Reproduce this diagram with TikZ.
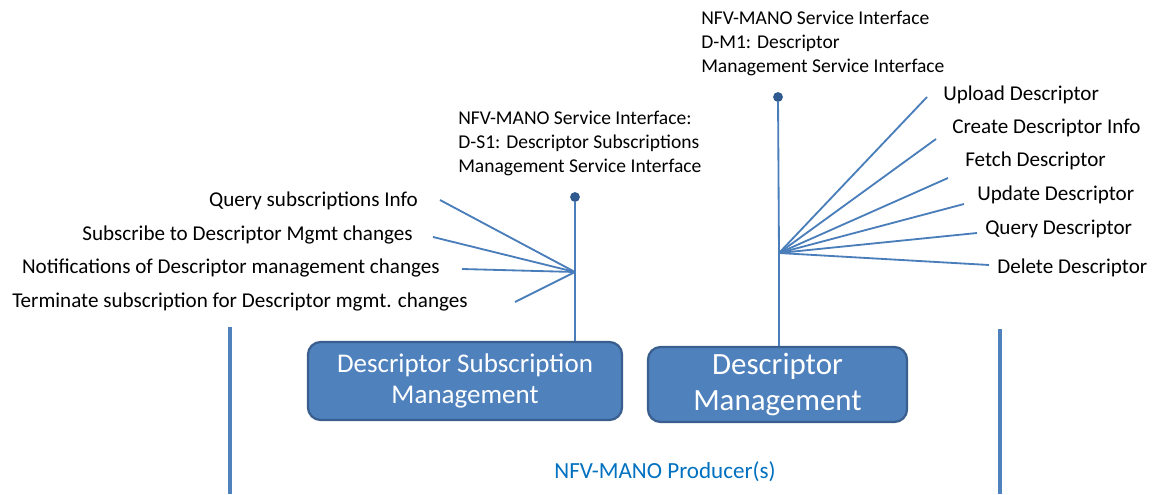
\documentclass[tikz,border=0pt]{standalone}
\usepackage{fontspec}
\setmainfont{Carlito}
\usetikzlibrary{positioning}
\definecolor{boxfill}{HTML}{4F81BD}
\definecolor{boxedge}{HTML}{3A5F8E}
\definecolor{wire}{HTML}{4A7EBB}
\definecolor{dotblue}{HTML}{2F5A8F}
\definecolor{prodtext}{HTML}{0070C0}
\tikzset{%
  block/.style={rectangle,rounded corners=9pt,draw=boxedge,fill=boxfill,line width=1.6pt,text=white,align=center,inner sep=0pt},
  oper/.style={font=\fontsize{15}{18}\selectfont,inner sep=0pt},
  iface/.style={font=\fontsize{13.9}{17}\selectfont,align=left,inner sep=0pt},
  wire/.style={draw=wire,line width=1.3pt},
  frame/.style={draw=boxfill,line width=3.5pt},
  port/.style={circle,fill=dotblue,inner sep=0pt,minimum size=7pt}%
}

\begin{document}
\begin{tikzpicture}[x=0.025cm,y=-0.025cm]
      \useasboundingbox (0,0) rectangle (1152,494);

      % producer frame
      \coordinate (frame_lt) at (230,327);
      \coordinate (frame_lb) at (230,494);
      \coordinate (frame_rt) at (1000,329);
      \coordinate (frame_rb) at (1000,494);
      \path (frame_lt) edge[frame] (frame_lb) (frame_rt) edge[frame] (frame_rb);
      \node (producer) at (665,472) [text=prodtext,font=\fontsize{16.4}{19}\selectfont] {NFV-MANO Producer(s)};

      % functional blocks
      \node (sub_mgmt) at (465,381) [block,minimum width=7.85cm,minimum height=1.95cm,font=\fontsize{19.2}{22}\selectfont] {Descriptor Subscription\\Management};
      \node (desc_mgmt) at (777.5,384.5) [block,minimum width=6.475cm,minimum height=1.875cm,font=\fontsize{22}{25}\selectfont] {Descriptor\\Management};

      % D-S1 interface
      \node (port_s1) at (575,197) [port] {};
      \coordinate (hub_s1) at (575,272);
      \node (iface_s1) at (458,111) [iface,anchor=north west] {NFV-MANO Service Interface:\\D-S1: Descriptor Subscriptions\\Management Service Interface};
      \path (port_s1) edge[wire] (hub_s1) (hub_s1) edge[wire] (hub_s1 |- sub_mgmt.north);

      \node (query_sub) at (418,201) [oper,anchor=east] {Query subscriptions Info};
      \node (subscribe) at (413,235) [oper,anchor=east] {Subscribe to Descriptor Mgmt changes};
      \node (notify) at (440,268) [oper,anchor=east] {Notifications of Descriptor management changes};
      \node (terminate) at (468,302) [oper,anchor=east] {Terminate subscription for Descriptor mgmt. changes};
      \coordinate (query_sub_end) at (440,200);
      \coordinate (subscribe_end) at (433,237);
      \coordinate (notify_end) at (462,269);
      \coordinate (terminate_end) at (515,302);
      \path (hub_s1) edge[wire] (query_sub_end)
            (hub_s1) edge[wire] (subscribe_end)
            (hub_s1) edge[wire] (notify_end)
            (hub_s1) edge[wire] (terminate_end);

      % D-M1 interface
      \node (port_m1) at (778,97) [port] {};
      \coordinate (hub_m1) at (779,253);
      \node (iface_m1) at (701,11) [iface,anchor=north west] {NFV-MANO Service Interface\\D-M1: Descriptor\\Management Service Interface};
      \path (port_m1) edge[wire] (hub_m1) (hub_m1) edge[wire] (hub_m1 |- desc_mgmt.north);

      \node (upload) at (943,95) [oper,anchor=west] {Upload Descriptor};
      \node (create) at (952,128) [oper,anchor=west] {Create Descriptor Info};
      \node (fetch) at (965,161) [oper,anchor=west] {Fetch Descriptor};
      \node (update) at (977,195) [oper,anchor=west] {Update Descriptor};
      \node (query_desc) at (985,229) [oper,anchor=west] {Query Descriptor};
      \node (delete) at (997,268) [oper,anchor=west] {Delete Descriptor};
      \coordinate (upload_end) at (927,97);
      \coordinate (create_end) at (936,139);
      \coordinate (fetch_end) at (948,178);
      \coordinate (update_end) at (964,204);
      \coordinate (query_desc_end) at (977,233);
      \coordinate (delete_end) at (989,265);
      \path (hub_m1) edge[wire] (upload_end) (hub_m1) edge[wire] (create_end)
            (hub_m1) edge[wire] (fetch_end) (hub_m1) edge[wire] (update_end)
            (hub_m1) edge[wire] (query_desc_end) (hub_m1) edge[wire] (delete_end);

    \end{tikzpicture}
\end{document}
